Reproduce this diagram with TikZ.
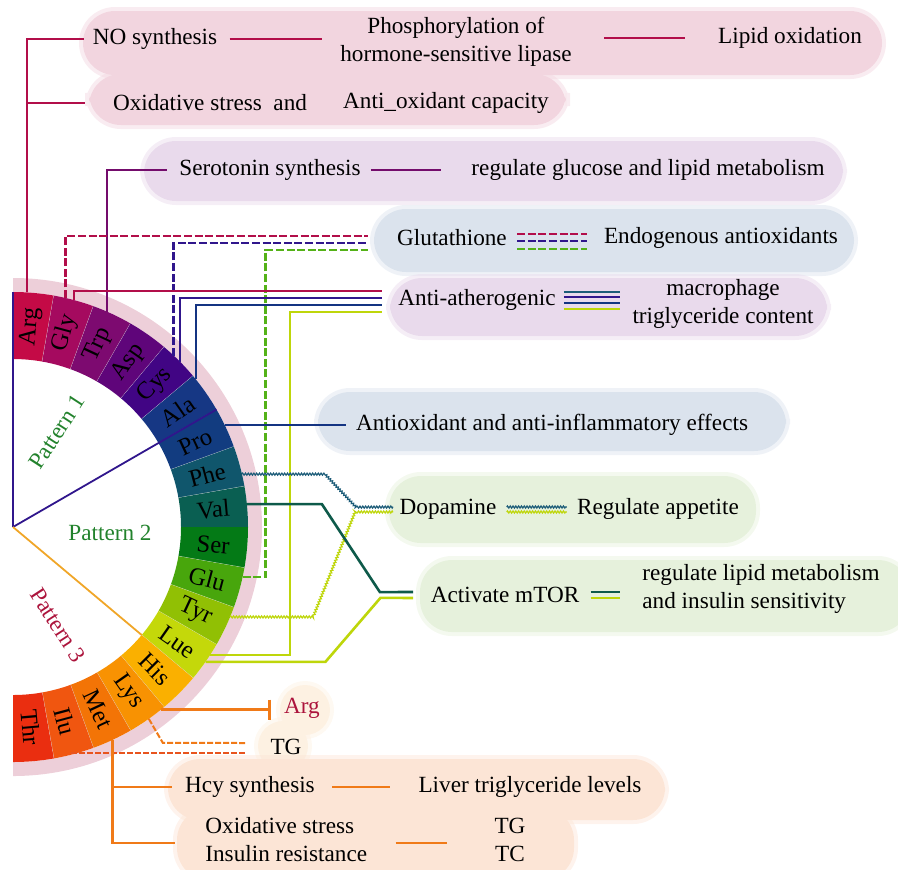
\documentclass[tikz,border=0pt]{standalone}
\usepackage{fontspec}
\setmainfont{Liberation Serif}
\usetikzlibrary{arrows.meta,decorations.pathmorphing}

% ring segment colours
\definecolor{cArg}{RGB}{196,10,70}
\definecolor{cGly}{RGB}{165,10,95}
\definecolor{cTrp}{RGB}{125,10,112}
\definecolor{cAsp}{RGB}{95,5,122}
\definecolor{cCys}{RGB}{65,5,132}
\definecolor{cAla}{RGB}{22,55,132}
\definecolor{cPro}{RGB}{18,60,128}
\definecolor{cPhe}{RGB}{16,86,108}
\definecolor{cVal}{RGB}{10,95,82}
\definecolor{cSer}{RGB}{4,122,22}
\definecolor{cGlu}{RGB}{72,166,12}
\definecolor{cTyr}{RGB}{145,192,4}
\definecolor{cLue}{RGB}{196,216,10}
\definecolor{cHis}{RGB}{250,176,0}
\definecolor{cLys}{RGB}{248,146,2}
\definecolor{cMet}{RGB}{243,116,6}
\definecolor{cIlu}{RGB}{240,86,16}
\definecolor{cThr}{RGB}{234,46,16}
% connector colours
\definecolor{lnCrim}{RGB}{178,14,74}
\definecolor{lnPurp}{RGB}{116,12,108}
\definecolor{lnIndi}{RGB}{48,22,140}
\definecolor{lnBlue}{RGB}{20,52,130}
\definecolor{lnTeal}{RGB}{28,92,120}
\definecolor{lnVal}{RGB}{14,90,74}
\definecolor{lnGreen}{RGB}{84,178,24}
\definecolor{lnLime}{RGB}{190,214,10}
\definecolor{lnOrange}{RGB}{240,122,24}
\definecolor{lnRed}{RGB}{232,84,30}
\definecolor{patOrange}{RGB}{240,166,40}
\definecolor{patGreen}{RGB}{34,130,44}
\definecolor{patRed}{RGB}{172,20,60}
% cloud colours
\definecolor{pinkbg}{RGB}{242,213,223}
\definecolor{lavbg}{RGB}{233,218,236}
\definecolor{bluebg}{RGB}{219,227,237}
\definecolor{greenbg}{RGB}{230,241,220}
\definecolor{peachbg}{RGB}{252,229,214}
\definecolor{creambg}{RGB}{253,241,226}
\definecolor{halo}{RGB}{237,207,217}

\begin{document}
\begin{tikzpicture}[x=0.5pt,y=-0.5pt,
  txt/.style={font=\fontsize{11.6}{14}\selectfont,inner sep=0pt,align=center},
  seglab/.style={font=\fontsize{12.3}{14}\selectfont,inner sep=0pt},
  bub/.style={fill=#1,draw=#1,draw opacity=0.45,line width=4pt,rounded corners=16pt},
  link/.style={line width=1.3pt},
  dashlink/.style={line width=1.4pt,dash pattern=on 4pt off 1.3pt},
  tglink/.style={line width=1pt,dash pattern=on 3pt off 1pt},
  wavy/.style={line width=0.6pt,decorate,decoration={zigzag,segment length=1.4pt,amplitude=0.5pt}}]
\useasboundingbox (0,0) rectangle (898,869);

% Background clouds
\path[bub=pinkbg] (83,11) rectangle (882,75);
\path[bub=pinkbg] (89,74) rectangle (566,125);
\path[bub=lavbg] (144,141) rectangle (843,201);
\path[bub=bluebg] (374,209) rectangle (854,272);
\path[bub=lavbg] (390,278) rectangle (827,336);
\path[bub=bluebg] (318,392) rectangle (786,451);
\path[bub=greenbg] (389,476) rectangle (756,543);
\path[bub=greenbg] (420,560) rectangle (910,632);
\path[bub=creambg] (305,710) circle[radius=25];
\path[bub=creambg] (283,746) circle[radius=25];
\path[bub=peachbg] (168,759) rectangle (665,820);
\path[bub=peachbg] (177,808) rectangle (574,880);

% Amino acid ring
\begin{scope}[shift={(13,527)},yscale=-1]
  \fill[halo] (90:235) arc[start angle=90,end angle=-90,radius=235] -- (-90:249) arc[start angle=-90,end angle=90,radius=249] -- cycle;
  \foreach \aa [count=\i from 0] in {Arg,Gly,Trp,Asp,Cys,Ala,Pro,Phe,Val,Ser,Glu,Tyr,Lue,His,Lys,Met,Ilu,Thr}{
    \pgfmathsetmacro\angA{90-10*\i}
    \pgfmathsetmacro\angB{80-10*\i}
    \pgfmathsetmacro\angM{85-10*\i}
    \fill[c\aa] (\angA:168) -- (\angA:235) arc[start angle=\angA,end angle=\angB,radius=235] -- (\angB:168) arc[start angle=\angB,end angle=\angA,radius=168] -- cycle;
    \ifnum\i<17 \draw[white!75!gray,line width=0.3pt] (\angB:168) -- (\angB:235); \fi
    \node[seglab,rotate=\angM] (s\aa) at (\angM:201) {\aa};
  }
  % pattern borders
  \draw[lnIndi,line width=0.9pt] (0,0) -- (90:235);
  \draw[lnIndi,line width=0.9pt] (0,0) -- (30:235);
  \draw[patOrange,line width=0.9pt] (0,0) -- (-40:168);
  % where the connectors leave the ring
  \coordinate (eArg) at (86.6:235);
  \coordinate (eGlyA) at (77:235);
  \coordinate (eGlyB) at (75:235);
  \coordinate (eTrp) at (66.4:235);
  \coordinate (eCysA) at (46.8:235);
  \coordinate (eCysB) at (44.7:235);
  \coordinate (eAla) at (38.9:235);
  \coordinate (ePro) at (25.7:235);
  \coordinate (ePhe) at (13:235);
  \coordinate (eVal) at (5.6:235);
  \coordinate (eGlu) at (-12.3:235);
  \coordinate (eTyr) at (-22.5:235);
  \coordinate (eLueA) at (-33:235);
  \coordinate (eLueB) at (-35:235);
  \coordinate (eLysA) at (-51:235);
  \coordinate (eLysB) at (-54.7:235);
  \coordinate (eMet) at (-65:235);
  \coordinate (eIlu) at (-75.5:233);
\end{scope}

% Pattern labels
\node[txt,patGreen,rotate=57] (pat1) at (57,432) {Pattern 1};
\node[txt,patGreen] (pat2) at (110,533) {Pattern 2};
\node[txt,patRed,rotate=-57] (pat3) at (58,625) {Pattern 3};

% Texts
\node[txt] (no) at (155,39) {NO synthesis};
\node[txt] (phos) at (456,42) {Phosphorylation of\\hormone-sensitive lipase};
\node[txt] (lip) at (790,38) {Lipid oxidation};
\node[txt] (oxs) at (210,103) {Oxidative stress\ \ and};
\node[txt] (antic) at (446,103) {Anti\_oxidant capacity};
\node[txt] (sero) at (270,170) {Serotonin synthesis};
\node[txt] (glm) at (648,170) {regulate glucose and lipid metabolism};
\node[txt] (glut) at (452,238) {Glutathione};
\node[txt] (endo) at (721,238) {Endogenous antioxidants};
\node[txt] (anti) at (477,300) {Anti-atherogenic};
\node[txt] (macro) at (723,304) {macrophage\\triglyceride content};
\node[txt] (aox) at (552,425) {Antioxidant and anti-inflammatory effects};
\node[txt] (dop) at (448,509) {Dopamine};
\node[txt] (app) at (658,509) {Regulate appetite};
\node[txt] (mtor) at (505,595) {Activate mTOR};
\node[txt,align=left,anchor=west] (lipm) at (642,589) {regulate lipid metabolism\\and insulin sensitivity};
\node[txt,patRed] (argn) at (302,708) {Arg};
\node[txt] (tg) at (286,747) {TG};
\node[txt] (hcy) at (250,787) {Hcy synthesis};
\node[txt] (liver) at (530,787) {Liver triglyceride levels};
\node[txt,align=left,anchor=west] (oxi) at (205,840) {Oxidative stress\\Insulin resistance};
\node[txt] (tgtc) at (510,840) {TG\\TC};

% Arg and Trp
\draw[link,lnCrim] (eArg) |- ([xshift=-4pt]no.west);
\draw[link,lnCrim] (eArg) |- ([xshift=-14pt]oxs.west);
\draw[link,lnCrim,shorten <=6pt,shorten >=9pt] (no.east) -- (no.east -| phos.west);
\draw[link,lnCrim,shorten <=16pt,shorten >=16.5pt] (lip.west -| phos.east) -- (lip.west);
\draw[link,lnPurp] (eTrp) |- ([xshift=-6pt]sero.west);
\draw[link,lnPurp,shorten <=5pt,shorten >=15pt] (sero.east) -- (sero.east -| glm.west);

% Glutathione
\coordinate (gIn1) at (368,236);
\coordinate (gIn2) at (368,243);
\coordinate (gIn3) at (368,250);
\draw[dashlink,lnCrim] (eGlyA) |- (gIn1);
\draw[dashlink,lnIndi] (eCysA) |- (gIn2);
\draw[dashlink,lnGreen] (eGlu) -- ++(23,0) |- (gIn3);
\foreach \dy/\col in {2/lnCrim,-1.5/lnIndi,-5.5/lnGreen}
  \draw[dashlink,\col,line width=1.1pt,shorten <=5pt,shorten >=8.5pt] ([yshift=\dy pt]glut.east) -- ([yshift=\dy pt]glut.east -| endo.west);

% Anti-atherogenic
\coordinate (aIn1) at (382,291);
\coordinate (aIn2) at (382,298);
\coordinate (aIn3) at (382,305);
\coordinate (aIn4) at (382,312);
\draw[link,lnCrim] (eGlyB) |- (aIn1);
\draw[link,lnIndi] (eCysB) |- (aIn2);
\draw[link,lnBlue] (eAla) |- (aIn3);
\draw[link,lnLime] (eLueA) -- ++(80,0) |- (aIn4);
\foreach \dy/\col in {4/lnTeal,1.5/lnIndi,-1.5/lnBlue,-4.5/lnLime}
  \draw[\col,line width=1.1pt,shorten <=4pt,shorten >=6pt] ([yshift=\dy pt]anti.east) -- ([yshift=\dy pt]anti.east -| macro.west);

% Pro
\draw[link,lnBlue,shorten >=5pt] (ePro) -- (ePro -| aox.west);

% Dopamine
\coordinate (dIn1) at (393,507);
\coordinate (dIn2) at (393,512);
\draw[wavy,lnTeal] (ePhe) -- ++(83,0) -- ++(31,33) -- (dIn1);
\draw[wavy,lnLime] (eTyr) -- ++(83,0) -- ++(42,-105) -- (dIn2);
\foreach \dy/\col in {1/lnTeal,-1.5/lnLime}
  \draw[wavy,\col] ([xshift=5pt,yshift=\dy pt]dop.east) -- ([xshift=-5pt,yshift=\dy pt]dop.east -| app.west);

% mTOR
\coordinate (mIn1) at (413,592);
\coordinate (mIn2) at (413,598);
\draw[link,lnVal] (eVal) -- ++(75,0) -- ++(58,88) -- (mIn1);
\draw[link,lnLime] (eLueB) -- ++(120,0) -- ++(55,-64) -- (mIn2);
\foreach \dy/\col in {1.5/lnVal,-1.5/lnLime}
  \draw[link,\col,shorten <=5.5pt,shorten >=11pt] ([yshift=\dy pt]mtor.east) -- ([yshift=\dy pt]mtor.east -| lipm.west);

% Lys, Ilu and Met
\draw[link,lnOrange,-{Bar[width=10pt]},shorten >=6.5pt] (eLysA) -- (eLysA -| argn.west);
\coordinate (tIn1) at (245,743);
\coordinate (tIn2) at (245,752);
\draw[tglink,lnOrange] (eLysB) -- ++(14,24) -- (tIn1);
\draw[tglink,lnRed] (eIlu) -- (eIlu -| tIn2);
\draw[link,lnOrange] (eMet) |- ([xshift=-6.5pt]hcy.west);
\draw[link,lnOrange] (eMet) |- ([xshift=-15pt,yshift=-1.5pt]oxi.west);
\draw[link,lnOrange,shorten <=8.5pt,shorten >=14pt] (hcy.east) -- (hcy.east -| liver.west);
\draw[link,lnOrange,shorten <=14pt,shorten >=23.5pt] ([yshift=-1.5pt]oxi.east) -- ([yshift=-1.5pt]oxi.east -| tgtc.west);
\end{tikzpicture}
\end{document}
